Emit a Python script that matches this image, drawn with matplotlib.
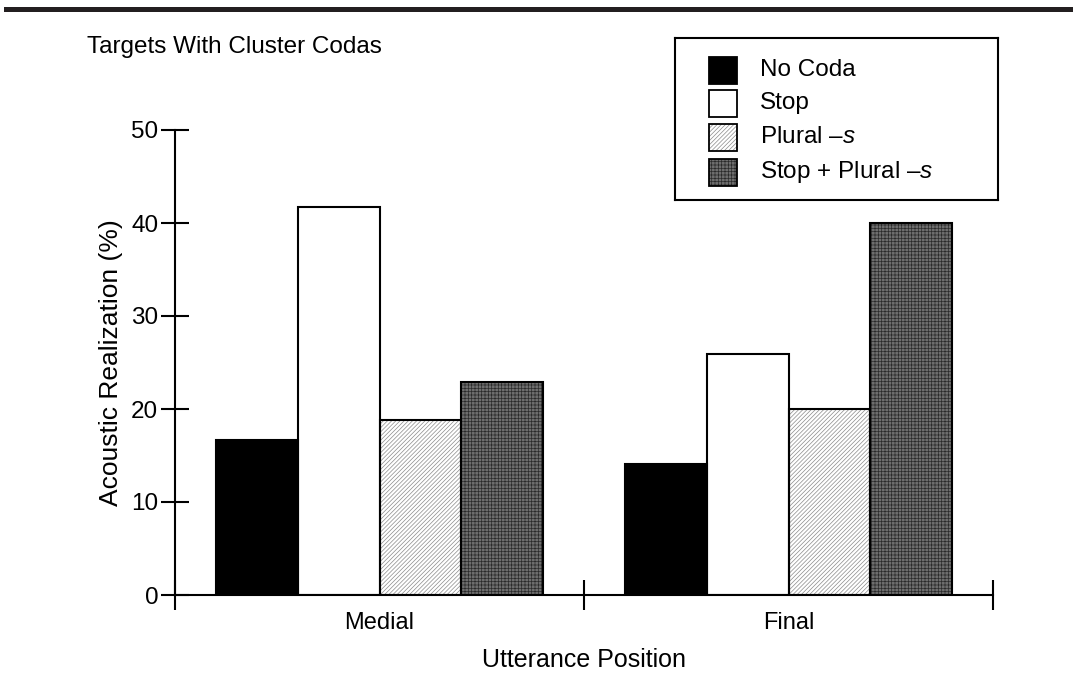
import matplotlib
matplotlib.use("Agg")
import matplotlib.pyplot as plt
from matplotlib.patches import Rectangle
import numpy as np

plt.rcParams['font.family'] = ['Liberation Sans', 'DejaVu Sans']
plt.rcParams['mathtext.fontset'] = 'custom'
plt.rcParams['mathtext.rm'] = 'Liberation Sans'
plt.rcParams['mathtext.it'] = 'Liberation Sans:italic'
plt.rcParams['hatch.linewidth'] = 0.5

positions = ["Medial", "Final"]
series_names = ["No Coda", "Stop", "Plural \u2013$\\it{s}$", "Stop + Plural \u2013$\\it{s}$"]
no_coda = [16.7, 14.1]
stop = [41.7, 25.9]
plural_s = [18.8, 20.0]
stop_plural_s = [22.9, 40.0]
yticks = [0, 10, 20, 30, 40, 50]

values = [no_coda, stop, plural_s, stop_plural_s]
styles = [
    dict(facecolor='black', hatch=None, hcolor='black'),
    dict(facecolor='white', hatch=None, hcolor='black'),
    dict(facecolor='white', hatch='////////', hcolor='#8a8a8a'),
    dict(facecolor='#6e6e6e', hatch='+++++', hcolor='#2a2a2a'),
]

fig = plt.figure(figsize=(10.73, 6.88), dpi=100)
ax = fig.add_axes([175/1073, 1-595/688, (993-175)/1073, (595-130)/688])

width = 0.2
centers = np.arange(len(positions)) + 0.5
for i, (vals, st) in enumerate(zip(values, styles)):
    x = centers + (i - 1.5) * width
    ax.bar(x, vals, width=width, facecolor=st['facecolor'], edgecolor=st['hcolor'],
           hatch=st['hatch'], linewidth=0, zorder=2)
    ax.bar(x, vals, width=width, facecolor='none', edgecolor='black', linewidth=1.5, zorder=3)

ax.set_xlim(0, 2)
ax.set_ylim(0, 50)
for s in ['top', 'right']:
    ax.spines[s].set_visible(False)
ax.spines['left'].set_linewidth(1.5)
ax.spines['bottom'].set_linewidth(1.5)
ax.set_yticks(yticks)
ax.set_yticklabels([str(v) for v in yticks], fontsize=17.5)
ax.tick_params(axis='y', direction='inout', length=20, width=1.5, pad=2)
ax.set_xticks([0, 1, 2])
ax.set_xticklabels([])
ax.set_xticks(centers, minor=True)
ax.set_xticklabels(positions, minor=True, fontsize=17)
ax.tick_params(axis='x', which='major', direction='inout', length=22, width=1.5)
ax.tick_params(axis='x', which='minor', length=0, pad=12)
ax.set_ylabel("Acoustic Realization (%)", fontsize=19, labelpad=6)
ax.set_xlabel("Utterance Position", fontsize=18, labelpad=10)

fig.text(87/1073, 1-47/688, "Targets With Cluster Codas", fontsize=17.5, va='center', ha='left')

# legend box
lax = fig.add_axes([675/1073, 1-200/688, (998-675)/1073, (200-38)/688])
lax.set_xlim(0, 323)
lax.set_ylim(162, 0)
lax.set_xticks([])
lax.set_yticks([])
for s in lax.spines.values():
    s.set_linewidth(1.5)
ys = [32, 65, 99, 134]
for y, st, name in zip(ys, styles, series_names):
    lax.add_patch(Rectangle((34, y - 13), 28, 27, facecolor=st['facecolor'], edgecolor=st['hcolor'],
                            hatch=st['hatch'], linewidth=0))
    lax.add_patch(Rectangle((34, y - 13), 28, 27, facecolor='none', edgecolor='black', linewidth=1.3))
    lax.text(85, y, name, fontsize=17.5, va='center', ha='left')

# top rule
fig.add_artist(Rectangle((4/1073, 1-12/688), 1 - 4/1073, 5/688, transform=fig.transFigure,
                         facecolor='#231f20', edgecolor='none'))

fig.savefig("out.png", dpi=100)
